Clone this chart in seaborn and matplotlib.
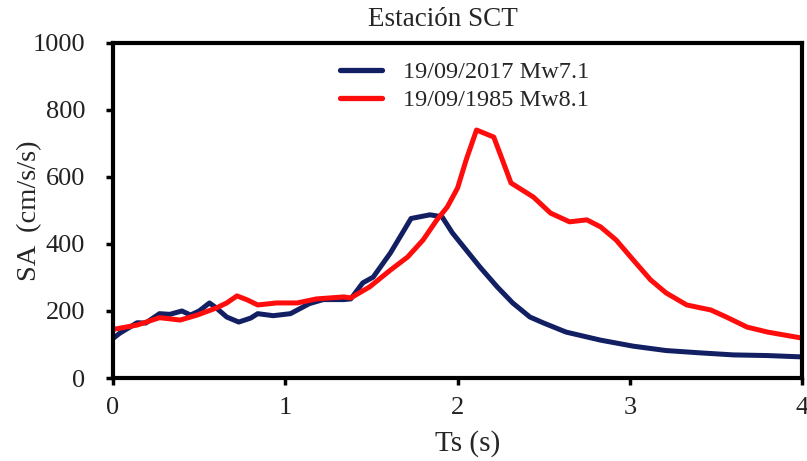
import matplotlib
matplotlib.use("Agg")
import matplotlib.pyplot as plt
import numpy as np
import pandas as pd
import seaborn as sns

# Response spectra at station SCT
t_2017 = [0.00, 0.04, 0.14, 0.19, 0.27, 0.33, 0.40, 0.45, 0.50, 0.56, 0.60, 0.66,
          0.73, 0.80, 0.84, 0.93, 1.03, 1.14, 1.22, 1.34, 1.38, 1.45, 1.51, 1.61,
          1.68, 1.73, 1.78, 1.84, 1.91, 1.97, 2.05, 2.13, 2.23, 2.32, 2.42, 2.50,
          2.63, 2.83, 3.02, 3.21, 3.41, 3.60, 3.80, 4.00]
sa_2017 = [118, 134, 165, 164, 192, 190, 200, 188, 200, 224, 209, 182,
           167, 179, 192, 186, 192, 222, 234, 234, 236, 284, 301, 373,
           433, 476, 481, 487, 481, 433, 382, 331, 272, 224, 182, 164,
           137, 113, 95, 82, 75, 69, 67, 63]

t_1985 = [0.00, 0.14, 0.27, 0.39, 0.49, 0.60, 0.66, 0.72, 0.78, 0.84, 0.95, 1.07,
          1.18, 1.34, 1.38, 1.49, 1.61, 1.71, 1.80, 1.88, 1.94, 2.00, 2.05, 2.11,
          2.21, 2.26, 2.31, 2.44, 2.54, 2.65, 2.75, 2.83, 2.92, 3.02, 3.12, 3.21,
          3.33, 3.47, 3.56, 3.68, 3.80, 4.00]
sa_1985 = [145, 158, 180, 173, 188, 209, 224, 245, 233, 218, 224, 224,
           236, 242, 239, 272, 322, 361, 412, 472, 510, 567, 651, 740,
           719, 651, 582, 540, 492, 466, 472, 451, 412, 352, 293, 254,
           218, 203, 182, 152, 137, 119]

labels = ["19/09/2017 Mw7.1", "19/09/1985 Mw8.1"]
colors = ["#121f62", "#ff0d0d"]

df = pd.concat([
    pd.DataFrame({"Ts": t_2017, "SA": sa_2017, "evento": labels[0]}),
    pd.DataFrame({"Ts": t_1985, "SA": sa_1985, "evento": labels[1]}),
], ignore_index=True)

sns.set_style("ticks")
plt.rcParams["font.family"] = ["Liberation Serif", "DejaVu Serif"]

fig = plt.figure(figsize=(8.07, 4.61), dpi=100)
ax = fig.add_axes([0.140, 0.180, 0.854, 0.727])

sns.lineplot(data=df, x="Ts", y="SA", hue="evento", palette=colors,
             linewidth=3.6, ax=ax, sort=False)

ax.set_xlim(0, 4)
ax.set_ylim(0, 1000)
ax.set_xticks([0, 1, 2, 3, 4])
ax.set_yticks([0, 200, 400, 600, 800, 1000])
ax.tick_params(axis="both", direction="out", length=5, width=2.5,
               labelsize=19, colors="black", labelcolor="#222222")
ax.tick_params(axis="x", pad=9)
ax.tick_params(axis="y", pad=15)
for side in ["left", "right", "top", "bottom"]:
    ax.spines[side].set_visible(True)
    ax.spines[side].set_linewidth(3)
    ax.spines[side].set_color("black")

ax.set_xlabel("Ts (s)", fontsize=21)
ax.xaxis.set_label_coords(0.514, -0.155)
ax.set_ylabel("SA  (cm/s/s)", fontsize=20.5)
ax.yaxis.set_label_coords(-0.103, 0.5)
ax.set_title("Estación SCT", fontsize=19.5, pad=12, x=0.479)

leg = ax.legend(title=None, loc="upper left", bbox_to_anchor=(0.329, 0.945),
                frameon=False, fontsize=17.5, handlelength=1.75,
                handletextpad=0.85, labelspacing=0.25,
                borderpad=0, borderaxespad=0)
for line in leg.get_lines():
    line.set_linewidth(3.8)

fig.savefig("out.png", dpi=100, facecolor="white")
